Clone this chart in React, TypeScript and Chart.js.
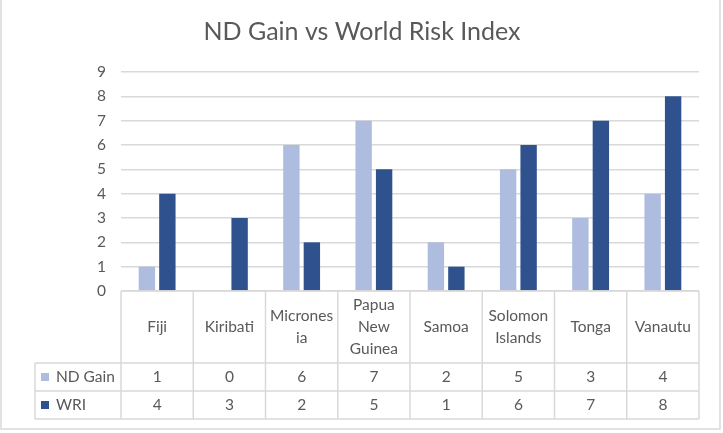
import { useEffect, useRef } from "react";
import { Chart, registerables } from "chart.js";

Chart.register(...registerables);

const categories: string[][] = [
  ["Fiji"],
  ["Kiribati"],
  ["Micrones", "ia"],
  ["Papua", "New", "Guinea"],
  ["Samoa"],
  ["Solomon", "Islands"],
  ["Tonga"],
  ["Vanautu"],
];
const ndGain = [1, 0, 6, 7, 2, 5, 3, 4];
const wri = [4, 3, 2, 5, 1, 6, 7, 8];
const seriesNames = ["ND Gain", "WRI"];
const seriesColors = ["#aebcdf", "#2f528f"];
const yMax = 9;
const chartTitle = "ND Gain vs World Risk Index";

const FONT = "Lato, 'Open Sans', sans-serif";
const TEXT = "#595959";
const LINE = "#d9d9d9";

const tablePlugin = {
  id: "dataTable",
  beforeDraw(chart: any) {
    const ctx = chart.ctx;
    ctx.save();
    ctx.fillStyle = "#ffffff";
    ctx.fillRect(0, 0, chart.width, chart.height);
    ctx.restore();
  },
  afterDraw(chart: any) {
    const ctx: CanvasRenderingContext2D = chart.ctx;
    const x = chart.scales.x;
    const area = chart.chartArea;
    const n = categories.length;
    const cw = (area.right - area.left) / n;
    const top = area.bottom;
    const headerBottom = top + 72;
    const rowH = 28;
    const legendLeft = 35;
    const tableBottom = headerBottom + rowH * seriesNames.length;

    ctx.save();
    // title
    ctx.fillStyle = TEXT;
    ctx.font = `25px ${FONT}`;
    ctx.textAlign = "center";
    ctx.textBaseline = "middle";
    ctx.fillText(chartTitle, 362, 32);

    // lines
    ctx.strokeStyle = LINE;
    ctx.lineWidth = 1.5;
    ctx.beginPath();
    ctx.moveTo(area.left, top);
    ctx.lineTo(area.right, top);
    for (let r = 0; r <= seriesNames.length; r++) {
      const yy = headerBottom + r * rowH;
      ctx.moveTo(legendLeft, yy);
      ctx.lineTo(area.right, yy);
    }
    for (let i = 0; i <= n; i++) {
      const xx = area.left + i * cw;
      ctx.moveTo(xx, top);
      ctx.lineTo(xx, tableBottom);
    }
    ctx.moveTo(legendLeft, headerBottom);
    ctx.lineTo(legendLeft, tableBottom);
    ctx.stroke();

    // outer border
    ctx.beginPath();
    ctx.moveTo(1, 0);
    ctx.lineTo(1, 429);
    ctx.lineTo(720, 429);
    ctx.lineTo(720, 0);
    ctx.stroke();

    // header labels
    ctx.font = `15.5px ${FONT}`;
    ctx.fillStyle = TEXT;
    ctx.textAlign = "center";
    ctx.textBaseline = "middle";
    const hc = (top + headerBottom) / 2;
    const lh = 22;
    categories.forEach((lines, i) => {
      const cx = x.getPixelForValue(i);
      const y0 = hc - ((lines.length - 1) * lh) / 2;
      lines.forEach((t, k) => ctx.fillText(t, cx, y0 + k * lh));
    });

    // data rows
    const series = [ndGain, wri];
    series.forEach((vals, r) => {
      const cy = headerBottom + r * rowH + rowH / 2;
      ctx.textAlign = "center";
      vals.forEach((v, i) => {
        ctx.fillText(String(v), x.getPixelForValue(i), cy);
      });
      ctx.fillStyle = seriesColors[r];
      ctx.fillRect(41, cy - 4, 8, 8);
      ctx.fillStyle = TEXT;
      ctx.textAlign = "left";
      ctx.fillText(seriesNames[r], 56, cy);
    });
    ctx.restore();
  },
};

export default function App() {
  const ref = useRef<HTMLCanvasElement | null>(null);
  useEffect(() => {
    if (!ref.current) return;
    const chart = new Chart(ref.current, {
      type: "bar",
      data: {
        labels: categories,
        datasets: [
          {
            label: seriesNames[0],
            data: ndGain,
            backgroundColor: seriesColors[0],
            categoryPercentage: 0.567,
            barPercentage: 0.8,
          },
          {
            label: seriesNames[1],
            data: wri,
            backgroundColor: seriesColors[1],
            categoryPercentage: 0.567,
            barPercentage: 0.8,
          },
        ],
      },
      options: {
        animation: false,
        responsive: false,
        devicePixelRatio: 1,
        layout: { padding: { top: 72, right: 24, bottom: 142, left: 0 } },
        plugins: {
          legend: { display: false },
          title: { display: false },
          tooltip: { enabled: false },
        },
        scales: {
          x: { display: false },
          y: {
            min: 0,
            max: yMax,
            ticks: {
              stepSize: 1,
              color: TEXT,
              font: { family: FONT, size: 15.5 },
              padding: 15,
            },
            border: { display: false },
            grid: { color: LINE, lineWidth: 1.5, drawTicks: false },
            afterFit: (scale: any) => {
              scale.width = 121;
            },
          },
        },
      },
      plugins: [tablePlugin],
    });
    return () => chart.destroy();
  }, []);
  return (
    <div style={{ position: "absolute", left: 0, top: 0, width: 723, height: 433 }}>
      <canvas ref={ref} width={723} height={433} style={{ display: "block", width: 723, height: 433 }} />
    </div>
  );
}
